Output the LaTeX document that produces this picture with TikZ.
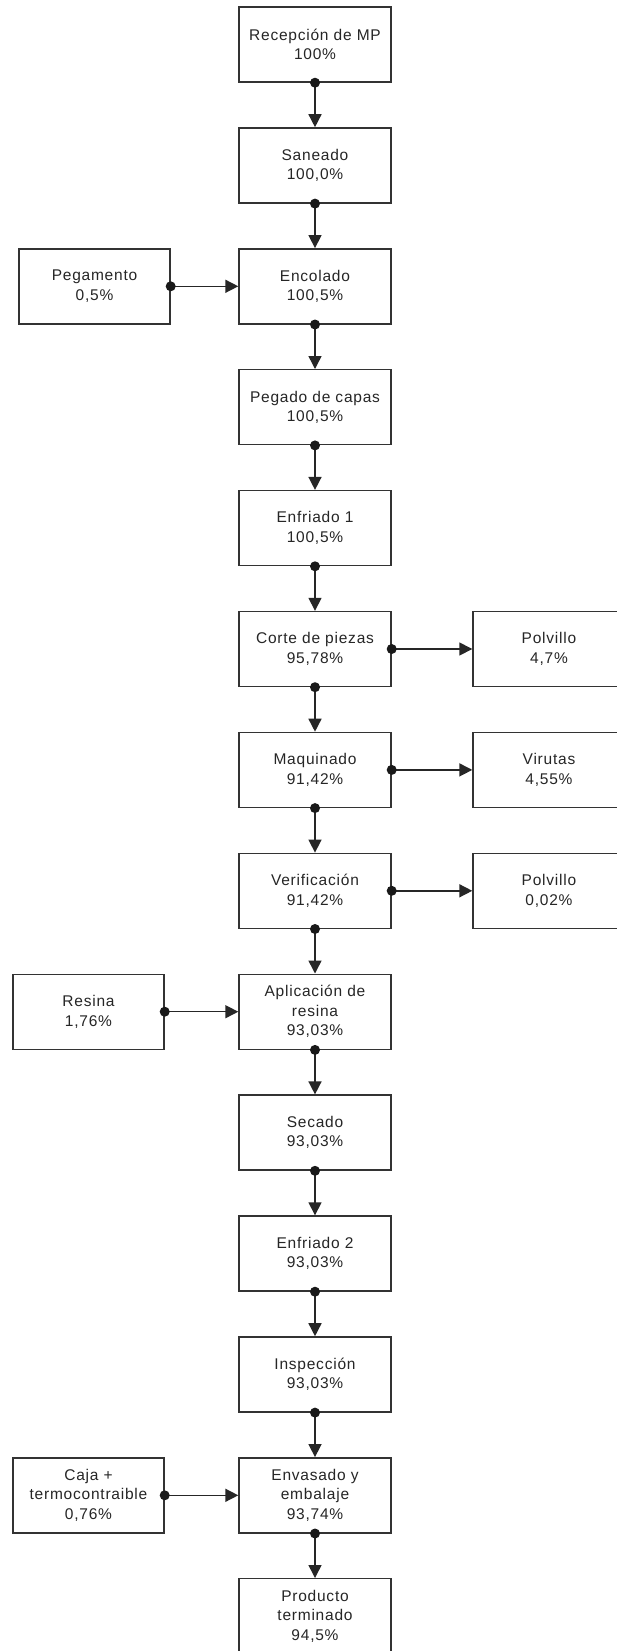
\documentclass[tikz,border=0pt]{standalone}
\usepackage{fontspec}
\setmainfont{Liberation Sans}[LetterSpace=5]
\usetikzlibrary{arrows.meta}
\begin{document}
\begin{tikzpicture}[x=1pt,y=-1pt,
  box/.style={draw=black!80, line width=1.4pt, minimum width=152pt, minimum height=75pt,
    inner sep=0pt, align=center, text=black!85, font=\fontsize{15.5}{19.5}\selectfont},
  sidebox/.style={box, minimum width=151pt},
  flow/.style={draw=black!85, line width=1.5pt, -{Triangle[length=13pt,width=13pt]}},
  dotc/.style={fill=black!90}]
\useasboundingbox (0,0) rectangle (616,1651);
\fill[white] (0,0) rectangle (616,1651);

% main column
\node[box] (m0)  at (315,44.5)   {Recepción de MP\\100\%};
\node[box] (m1)  at (315,165.4)  {Saneado\\100,0\%};
\node[box] (m2)  at (315,286.3)  {Encolado\\100,5\%};
\node[box] (m3)  at (315,407.2)  {Pegado de capas\\100,5\%};
\node[box] (m4)  at (315,528.1)  {Enfriado 1\\100,5\%};
\node[box] (m5)  at (315,649.0)  {Corte de piezas\\95,78\%};
\node[box] (m6)  at (315,769.9)  {Maquinado\\91,42\%};
\node[box] (m7)  at (315,890.8)  {Verificación\\91,42\%};
\node[box] (m8)  at (315,1011.7) {Aplicación de\\resina\\93,03\%};
\node[box] (m9)  at (315,1132.6) {Secado\\93,03\%};
\node[box] (m10) at (315,1253.5) {Enfriado 2\\93,03\%};
\node[box] (m11) at (315,1374.4) {Inspección\\93,03\%};
\node[box] (m12) at (315,1495.3) {Envasado y\\embalaje\\93,74\%};
\node[box] (m13) at (315,1616.2) {Producto\\terminado\\94,5\%};

% inputs (left)
\node[sidebox] (peg)  at (94.5,286.3)  {Pegamento\\0,5\%};
\node[sidebox] (res)  at (88.5,1011.7) {Resina\\1,76\%};
\node[sidebox] (caja) at (88.5,1495.3) {Caja +\\termocontraible\\0,76\%};

% outputs (right)
\node[box] (pol1) at (549,649.0) {Polvillo\\4,7\%};
\node[box] (vir)  at (549,769.9) {Virutas\\4,55\%};
\node[box] (pol2) at (549,890.8) {Polvillo\\0,02\%};

% vertical flow
\foreach \i [evaluate=\i as \j using int(\i+1)] in {0,...,12}{
  \draw[flow] (m\i.south) -- (m\j.north);
  \fill[dotc] (m\i.south) circle (5pt);
}

% side flows
\draw[flow] (peg.east) -- (m2.west);   \fill[dotc] (peg.east) circle (5pt);
\draw[flow] (res.east) -- (m8.west);   \fill[dotc] (res.east) circle (5pt);
\draw[flow] (caja.east) -- (m12.west); \fill[dotc] (caja.east) circle (5pt);
\draw[flow] (m5.east) -- (pol1.west);  \fill[dotc] (m5.east) circle (5pt);
\draw[flow] (m6.east) -- (vir.west);   \fill[dotc] (m6.east) circle (5pt);
\draw[flow] (m7.east) -- (pol2.west);  \fill[dotc] (m7.east) circle (5pt);
\end{tikzpicture}
\end{document}
